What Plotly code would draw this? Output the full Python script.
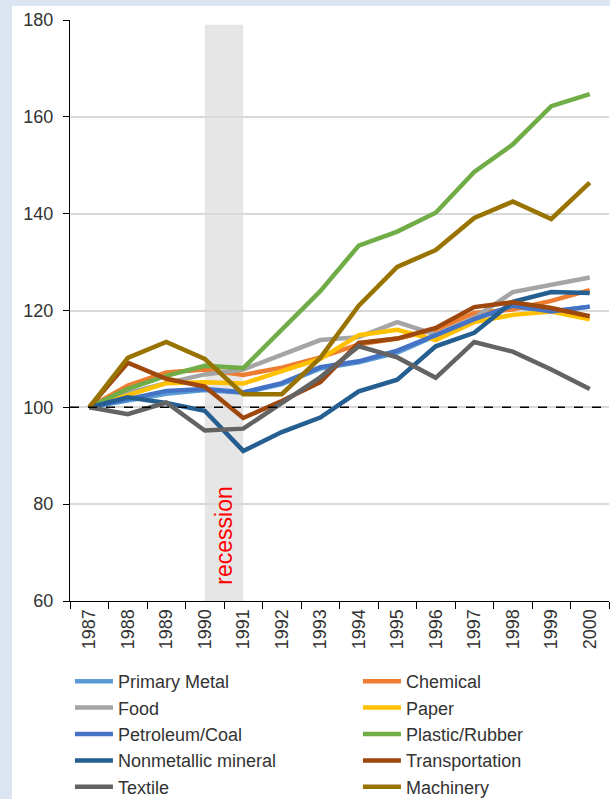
import plotly.graph_objects as go

years = [str(y) for y in range(1987, 2001)]

primary_metal = [100, 101.5, 102.8, 103.6, 103.0, 104.8, 108.0, 109.3, 111.3, 114.8, 118.3, 120.8, 119.8, 120.8]
chemical      = [100, 104.5, 107.2, 107.8, 106.7, 108.2, 110.3, 113.0, 114.2, 116.0, 119.5, 120.2, 122.0, 124.2]
food          = [100, 103.0, 105.0, 106.8, 107.8, 110.8, 113.9, 114.5, 117.6, 115.0, 118.5, 123.8, 125.3, 126.8]
paper         = [100, 102.5, 105.0, 105.2, 104.9, 107.5, 110.0, 114.9, 116.0, 113.9, 117.6, 119.1, 119.8, 118.2]
petroleum     = [100, 101.8, 103.4, 103.8, 103.1, 105.0, 108.3, 109.5, 111.7, 114.9, 118.2, 121.0, 119.8, 120.8]
plastic       = [100, 103.8, 106.5, 108.6, 108.1, 116.0, 124.0, 133.4, 136.3, 140.2, 148.6, 154.3, 162.2, 164.7]
nonmetallic   = [100, 102.1, 100.9, 99.3, 91.0, 94.9, 97.9, 103.3, 105.7, 112.6, 115.4, 121.8, 123.8, 123.6]
transport     = [100, 109.2, 105.9, 104.3, 97.8, 101.3, 105.2, 113.3, 114.2, 116.4, 120.7, 121.7, 120.5, 118.8]
textile       = [100, 98.6, 101.0, 95.2, 95.6, 100.9, 106.2, 112.6, 110.3, 106.1, 113.5, 111.5, 107.8, 103.8]
machinery     = [100, 110.2, 113.5, 110.0, 102.7, 102.7, 110.2, 121.0, 129.0, 132.5, 139.1, 142.5, 138.9, 146.4]

series = [
    ("Primary Metal", primary_metal, "#5b9bd5"),
    ("Chemical", chemical, "#ed7d31"),
    ("Food", food, "#a5a5a5"),
    ("Paper", paper, "#ffc000"),
    ("Petroleum/Coal", petroleum, "#4472c4"),
    ("Plastic/Rubber", plastic, "#70ad47"),
    ("Nonmetallic mineral", nonmetallic, "#255e91"),
    ("Transportation", transport, "#9e480e"),
    ("Textile", textile, "#636363"),
    ("Machinery", machinery, "#997300"),
]

recession_start, recession_end = "1990", "1991"
y_ticks = [60, 80, 100, 120, 140, 160, 180]
baseline = 100

fig = go.Figure()
for name, vals, color in series:
    fig.add_trace(go.Scatter(x=years, y=vals, name=name, mode="lines",
                             line=dict(color=color, width=4.5)))

W, H = 610, 799
ml, mr, mt, mb = 70, 1, 20, 198
pw, ph = W - ml - mr, H - mt - mb

i0 = years.index(recession_start)
i1 = years.index(recession_end)

shapes = [
    # left / top light-blue frame
    dict(type="rect", xref="paper", yref="paper",
         x0=-ml / pw, x1=(12 - ml) / pw, y0=-mb / ph - 0.05, y1=1 + mt / ph + 0.05,
         fillcolor="#dbe5f1", line_width=0, layer="below"),
    dict(type="rect", xref="paper", yref="paper",
         x0=-ml / pw, x1=(W - ml) / pw + 0.05, y0=1 + (mt - 6) / ph, y1=1 + mt / ph + 0.05,
         fillcolor="#dbe5f1", line_width=0, layer="below"),
    # recession band
    dict(type="rect", xref="x", yref="y", x0=i0, x1=i1, y0=60, y1=179,
         fillcolor="#e6e6e6", line_width=0, layer="below"),
    # baseline dashed
    dict(type="line", xref="paper", yref="y", x0=0, x1=1, y0=baseline, y1=baseline,
         line=dict(color="black", width=1.5, dash="dash"), layer="above"),
]

fig.update_layout(
    width=W, height=H,
    margin=dict(l=ml, r=mr, t=mt, b=mb, autoexpand=False),
    paper_bgcolor="white", plot_bgcolor="white",
    font=dict(family="Liberation Sans, Arial, sans-serif", color="#333333"),
    shapes=shapes,
    annotations=[dict(x=(i0 + i1) / 2, y=73.5, xref="x", yref="y", text="recession",
                      textangle=-90, showarrow=False,
                      font=dict(color="#ff0000", size=23, family="Liberation Sans, Arial"))],
    showlegend=True,
    legend=dict(orientation="h", x=-0.0001, xanchor="left", y=-0.1067, yanchor="top",
                entrywidth=235, entrywidthmode="pixels", itemwidth=38,
                font=dict(size=18, color="#333333"), bgcolor="rgba(0,0,0,0)",
                tracegroupgap=0),
)

fig.update_xaxes(
    type="category", range=[-0.5, len(years) - 0.5],
    showline=True, linecolor="black", linewidth=1,
    ticks="outside", tickson="boundaries", ticklen=7, tickcolor="black",
    tickangle=-90, tickfont=dict(size=18, color="#333333"),
    showgrid=False, zeroline=False,
)
fig.update_yaxes(
    range=[60, 180], tickvals=y_ticks,
    showline=True, linecolor="black", linewidth=1,
    ticks="outside", ticklen=6, tickcolor="black",
    tickfont=dict(size=18, color="#333333"), ticklabelstandoff=6,
    showgrid=True, gridcolor="#d9d9d9", gridwidth=2, zeroline=False,
)

fig.write_html("out.html", config={"displayModeBar": False},
               post_script="document.body.style.margin='0';")
